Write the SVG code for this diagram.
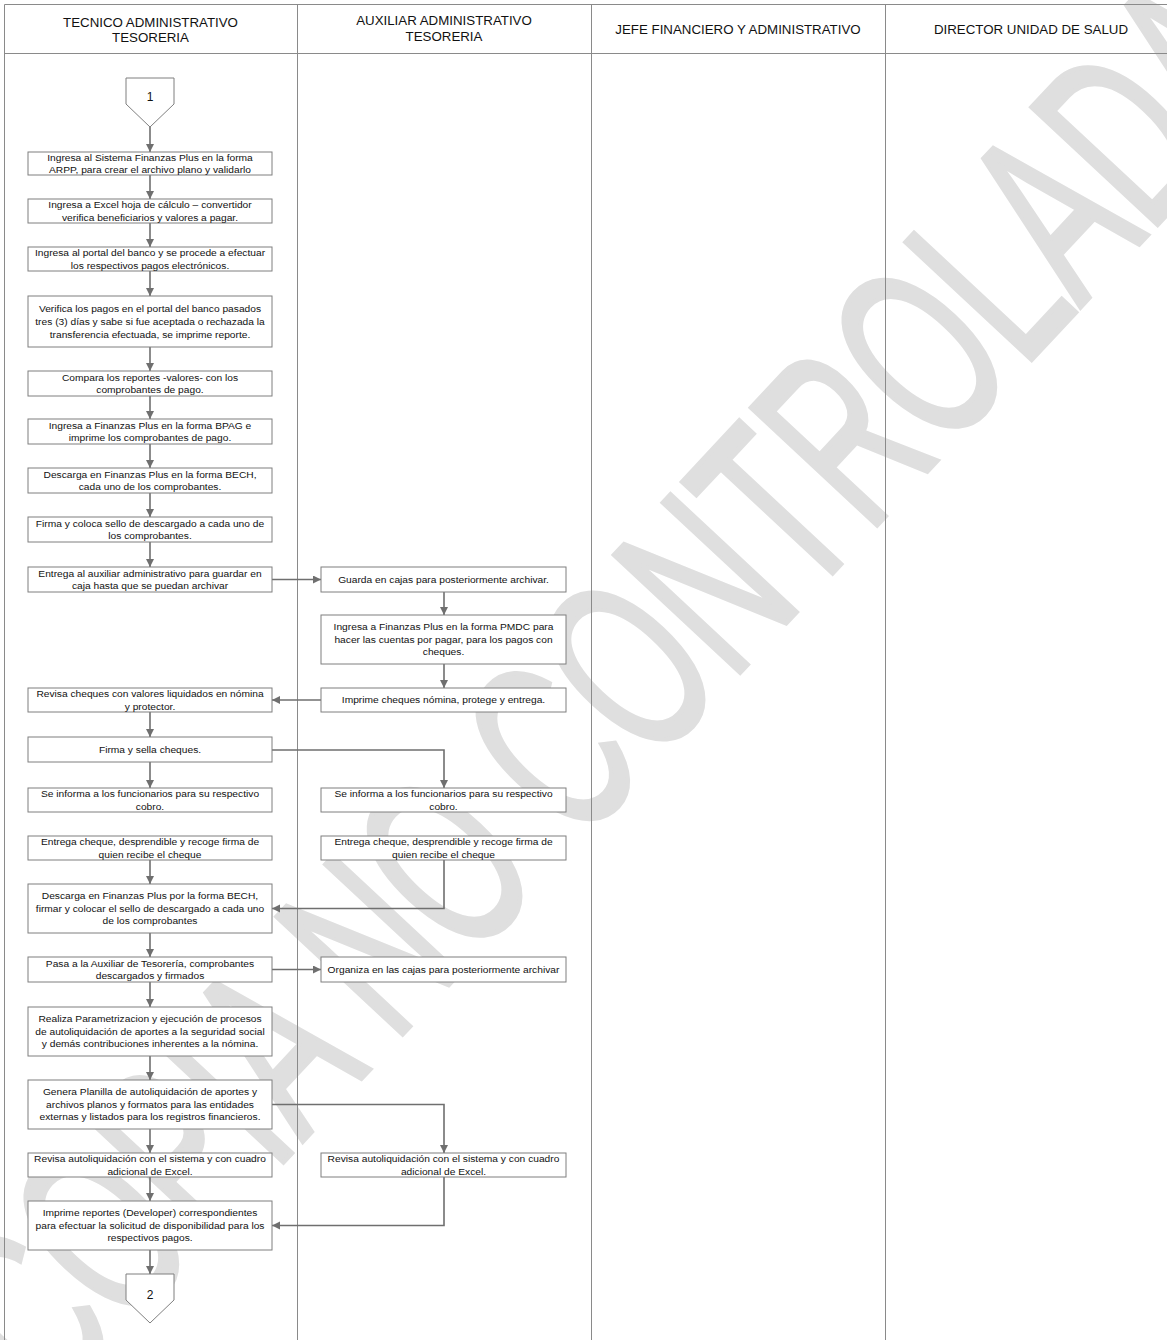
<svg xmlns="http://www.w3.org/2000/svg" width="1167" height="1340" viewBox="0 0 1167 1340">
<style>
.bx{fill:#fff;stroke:#7f7f7f;stroke-width:1}
.t{font-family:"Liberation Sans",Arial,sans-serif;font-size:9.3px;fill:#111;text-anchor:middle}
.h{font-family:"Liberation Sans",Arial,sans-serif;font-size:13.3px;fill:#111;text-anchor:middle}
.n{font-family:"Liberation Sans",Arial,sans-serif;font-size:12px;fill:#111;text-anchor:middle}
.c{stroke:#6f6f6f;stroke-width:1.6;fill:none;marker-end:url(#ah)}
.ln{stroke:#8a8a8a;stroke-width:1;fill:none}
.wm{font-family:"Liberation Sans",Arial,sans-serif;font-size:250px;fill:#dfdfdf;stroke:#dfdfdf;stroke-width:5}
</style>
<defs>
<marker id="ah" markerUnits="userSpaceOnUse" markerWidth="9" markerHeight="9" refX="8" refY="4" orient="auto">
<path d="M0,0 L8,4 L0,8 z" fill="#6f6f6f"/>
</marker>
</defs>
<rect width="1167" height="1340" fill="#fff"/>
<g id="watermark" transform="translate(605,685) rotate(-47)">
<text class="wm" x="0" y="90" text-anchor="middle" textLength="1820" lengthAdjust="spacingAndGlyphs">COPIA NO CONTROLADA</text>
</g>
<g id="lanes">
<path class="ln" d="M4.5,1340 V4.5 H1167 M4.5,53.5 H1167 M297.5,4.5 V1340 M591.5,4.5 V1340 M885.5,4.5 V1340"/>
<text class="h" x="150.5" y="26.5">TECNICO ADMINISTRATIVO</text>
<text class="h" x="150.5" y="41.5">TESORERIA</text>
<text class="h" x="444" y="25">AUXILIAR ADMINISTRATIVO</text>
<text class="h" x="444" y="41">TESORERIA</text>
<text class="h" x="738" y="33.5">JEFE FINANCIERO Y ADMINISTRATIVO</text>
<text class="h" x="1031" y="33.5">DIRECTOR UNIDAD DE SALUD</text>
</g>
<g id="connectors">
<path class="c" d="M150,127 V152"/>
<path class="c" d="M150,175 V199"/>
<path class="c" d="M150,223 V247"/>
<path class="c" d="M150,271 V296"/>
<path class="c" d="M150,347 V371"/>
<path class="c" d="M150,396 V419"/>
<path class="c" d="M150,444 V468"/>
<path class="c" d="M150,493 V517"/>
<path class="c" d="M150,542 V567"/>
<path class="c" d="M272,579.5 H321"/>
<path class="c" d="M444,592 V615"/>
<path class="c" d="M444,664 V688"/>
<path class="c" d="M321,700 H272"/>
<path class="c" d="M150,712 V737"/>
<path class="c" d="M272,750 H444 V788"/>
<path class="c" d="M150,762 V788"/>
<path class="c" d="M150,860 V884"/>
<path class="c" d="M444,860 V908.5 H272"/>
<path class="c" d="M150,933 V957"/>
<path class="c" d="M272,969.5 H321"/>
<path class="c" d="M150,982 V1007"/>
<path class="c" d="M150,1056 V1080"/>
<path class="c" d="M272,1104.5 H444 V1153"/>
<path class="c" d="M150,1129 V1153"/>
<path class="c" d="M444,1177 V1225.5 H272"/>
<path class="c" d="M150,1177 V1201"/>
<path class="c" d="M150,1250 V1274"/>
</g>
<g id="start1">
<path class="bx" d="M126,78 H174 V104 L150,127 L126,104 Z"/>
<text class="n" x="150" y="100.5">1</text>
</g>
<g id="b1"><rect class="bx" x="28" y="152" width="244" height="23"/>
<g transform="translate(150,0) scale(1.1,1)"><text class="t" y="160.6">Ingresa al Sistema Finanzas Plus en  la forma</text>
<text class="t" y="173.1">ARPP, para crear el archivo plano y validarlo</text></g></g>
<g id="b2"><rect class="bx" x="28" y="199" width="244" height="24"/>
<g transform="translate(150,0) scale(1.1,1)"><text class="t" y="208.1">Ingresa a Excel  hoja de cálculo – convertidor</text>
<text class="t" y="220.6">verifica beneficiarios y valores a pagar.</text></g></g>
<g id="b3"><rect class="bx" x="28" y="247" width="244" height="24"/>
<g transform="translate(150,0) scale(1.1,1)"><text class="t" y="256.1">Ingresa al portal del banco  y se procede a efectuar</text>
<text class="t" y="268.6">los respectivos pagos electrónicos.</text></g></g>
<g id="b4"><rect class="bx" x="28" y="296" width="244" height="51"/>
<g transform="translate(150,0) scale(1.1,1)"><text class="t" y="312.4">Verifica los pagos en el portal del banco pasados</text>
<text class="t" y="325.4">tres (3) días y sabe si fue aceptada o rechazada la</text>
<text class="t" y="338.4">transferencia efectuada, se  imprime reporte.</text></g></g>
<g id="b5"><rect class="bx" x="28" y="371" width="244" height="25"/>
<g transform="translate(150,0) scale(1.1,1)"><text class="t" y="380.6">Compara los  reportes -valores- con los</text>
<text class="t" y="393.1">comprobantes de pago.</text></g></g>
<g id="b6"><rect class="bx" x="28" y="419" width="244" height="25"/>
<g transform="translate(150,0) scale(1.1,1)"><text class="t" y="428.6">Ingresa a Finanzas Plus en la forma BPAG e</text>
<text class="t" y="441.1">imprime  los comprobantes de pago.</text></g></g>
<g id="b7"><rect class="bx" x="28" y="468" width="244" height="25"/>
<g transform="translate(150,0) scale(1.1,1)"><text class="t" y="477.6">Descarga en Finanzas Plus en la forma BECH,</text>
<text class="t" y="490.1">cada uno de los comprobantes.</text></g></g>
<g id="b8"><rect class="bx" x="28" y="517" width="244" height="25"/>
<g transform="translate(150,0) scale(1.1,1)"><text class="t" y="526.6">Firma y coloca sello de descargado a cada uno de</text>
<text class="t" y="539.1">los comprobantes.</text></g></g>
<g id="b9"><rect class="bx" x="28" y="567" width="244" height="25"/>
<g transform="translate(150,0) scale(1.1,1)"><text class="t" y="576.6">Entrega al auxiliar administrativo para guardar en</text>
<text class="t" y="589.1">caja hasta que se puedan archivar</text></g></g>
<g id="c1"><rect class="bx" x="321" y="567" width="245" height="25"/>
<g transform="translate(443.5,0) scale(1.1,1)"><text class="t" y="582.8">Guarda en cajas para posteriormente archivar.</text></g></g>
<g id="c2"><rect class="bx" x="321" y="615" width="245" height="49"/>
<g transform="translate(443.5,0) scale(1.1,1)"><text class="t" y="630.3">Ingresa a Finanzas Plus en la forma PMDC para</text>
<text class="t" y="642.8">hacer las cuentas por pagar, para los pagos con</text>
<text class="t" y="655.3">cheques.</text></g></g>
<g id="c3"><rect class="bx" x="321" y="688" width="245" height="24"/>
<g transform="translate(443.5,0) scale(1.1,1)"><text class="t" y="703.3">Imprime cheques nómina, protege y entrega.</text></g></g>
<g id="b10"><rect class="bx" x="28" y="688" width="244" height="24"/>
<g transform="translate(150,0) scale(1.1,1)"><text class="t" y="697.1">Revisa cheques con valores liquidados en nómina</text>
<text class="t" y="709.6">y protector.</text></g></g>
<g id="b11"><rect class="bx" x="28" y="737" width="244" height="25"/>
<g transform="translate(150,0) scale(1.1,1)"><text class="t" y="752.8">Firma y sella cheques.</text></g></g>
<g id="b12"><rect class="bx" x="28" y="788" width="244" height="24"/>
<g transform="translate(150,0) scale(1.1,1)"><text class="t" y="797.1">Se informa a los funcionarios para su  respectivo</text>
<text class="t" y="809.6">cobro.</text></g></g>
<g id="c4"><rect class="bx" x="321" y="788" width="245" height="24"/>
<g transform="translate(443.5,0) scale(1.1,1)"><text class="t" y="797.1">Se informa a los funcionarios para su  respectivo</text>
<text class="t" y="809.6">cobro.</text></g></g>
<g id="b13"><rect class="bx" x="28" y="836" width="244" height="24"/>
<g transform="translate(150,0) scale(1.1,1)"><text class="t" y="845.1">Entrega cheque, desprendible y recoge firma de</text>
<text class="t" y="857.6">quien recibe el cheque</text></g></g>
<g id="c5"><rect class="bx" x="321" y="836" width="245" height="24"/>
<g transform="translate(443.5,0) scale(1.1,1)"><text class="t" y="845.1">Entrega cheque, desprendible y recoge firma de</text>
<text class="t" y="857.6">quien recibe el cheque</text></g></g>
<g id="b14"><rect class="bx" x="28" y="884" width="244" height="49"/>
<g transform="translate(150,0) scale(1.1,1)"><text class="t" y="899.3">Descarga en Finanzas Plus  por la forma BECH,</text>
<text class="t" y="911.8">firmar y colocar el sello de descargado a cada uno</text>
<text class="t" y="924.3">de los comprobantes</text></g></g>
<g id="b15"><rect class="bx" x="28" y="957" width="244" height="25"/>
<g transform="translate(150,0) scale(1.1,1)"><text class="t" y="966.6">Pasa a  la Auxiliar de Tesorería, comprobantes</text>
<text class="t" y="979.1">descargados y firmados</text></g></g>
<g id="c6"><rect class="bx" x="321" y="957" width="245" height="25"/>
<g transform="translate(443.5,0) scale(1.1,1)"><text class="t" y="972.8">Organiza en las cajas para posteriormente archivar</text></g></g>
<g id="b16"><rect class="bx" x="28" y="1007" width="244" height="49"/>
<g transform="translate(150,0) scale(1.1,1)"><text class="t" y="1022.3">Realiza Parametrizacion y ejecución de procesos</text>
<text class="t" y="1034.8">de autoliquidación de aportes a la seguridad social</text>
<text class="t" y="1047.3">y demás contribuciones inherentes a la nómina.</text></g></g>
<g id="b17"><rect class="bx" x="28" y="1080" width="244" height="49"/>
<g transform="translate(150,0) scale(1.1,1)"><text class="t" y="1095.3">Genera Planilla de autoliquidación de aportes y</text>
<text class="t" y="1107.8">archivos planos y formatos para las entidades</text>
<text class="t" y="1120.3">externas y listados para los registros financieros.</text></g></g>
<g id="b18"><rect class="bx" x="28" y="1153" width="244" height="24"/>
<g transform="translate(150,0) scale(1.1,1)"><text class="t" y="1162.1">Revisa autoliquidación con el sistema y con cuadro</text>
<text class="t" y="1174.6">adicional de Excel.</text></g></g>
<g id="c7"><rect class="bx" x="321" y="1153" width="245" height="24"/>
<g transform="translate(443.5,0) scale(1.1,1)"><text class="t" y="1162.1">Revisa autoliquidación con el sistema y con cuadro</text>
<text class="t" y="1174.6">adicional de Excel.</text></g></g>
<g id="b19"><rect class="bx" x="28" y="1201" width="244" height="49"/>
<g transform="translate(150,0) scale(1.1,1)"><text class="t" y="1216.3">Imprime reportes (Developer) correspondientes</text>
<text class="t" y="1228.8">para efectuar la solicitud de disponibilidad para los</text>
<text class="t" y="1241.3">respectivos pagos.</text></g></g>
<g id="end2">
<path class="bx" d="M126,1274 H174 V1300 L150,1323 L126,1300 Z"/>
<text class="n" x="150" y="1298.5">2</text>
</g>
</svg>
